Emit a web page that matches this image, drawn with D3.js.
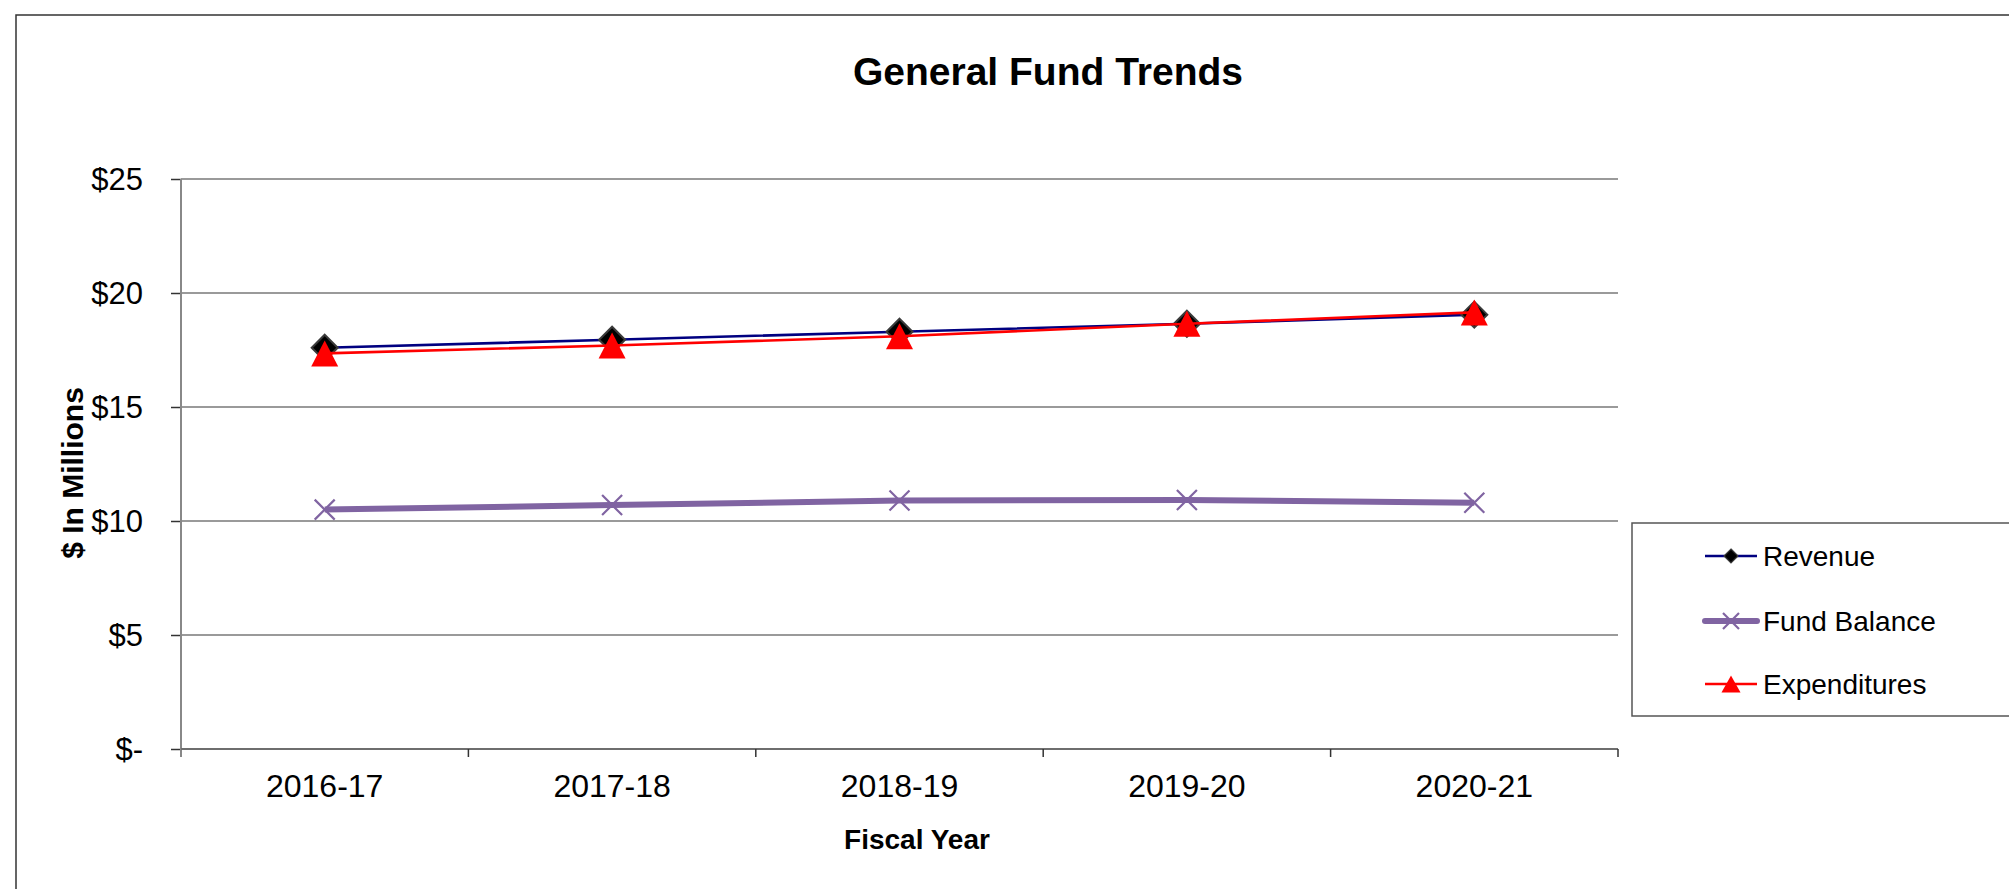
<!DOCTYPE html>
<html>
<head>
<meta charset="utf-8">
<title>General Fund Trends</title>
<script src="https://cdn.jsdelivr.net/npm/d3@7"></script>
<style>
  html, body { margin: 0; padding: 0; background: #ffffff; }
  svg { display: block; }
  text { font-family: "Liberation Sans", Arial, sans-serif; fill: #000; }
</style>
</head>
<body>
<svg id="chart" width="2009" height="889"></svg>
<script>
// Fiscal years on the category axis
const categories = ["2016-17", "2017-18", "2018-19", "2019-20", "2020-21"];

// General fund figures, $ millions
const revenue      = [17.6, 17.95, 18.3, 18.65, 19.05];
const fundBalance  = [10.5, 10.7, 10.9, 10.92, 10.8];
const expenditures = [17.35, 17.7, 18.1, 18.65, 19.15];

// Value axis ticks
const yTicks = [0, 5, 10, 15, 20, 25];
const yTickLabel = v => v === 0 ? "$-" : "$" + v;

const seriesNames = ["Revenue", "Fund Balance", "Expenditures"];

const svg = d3.select("#chart");

// Chart frame (runs past the right and bottom edges)
svg.append("rect")
  .attr("x", 16).attr("y", 15)
  .attr("width", 2200).attr("height", 1000)
  .attr("fill", "#fff")
  .attr("stroke", "#333").attr("stroke-width", 1.5);

const plot = { left: 181, right: 1618, top: 179, bottom: 749 };

const x = d3.scaleBand()
  .domain(categories)
  .range([plot.left, plot.right])
  .paddingInner(0).paddingOuter(0);

const y = d3.scaleLinear()
  .domain([0, 25])
  .range([plot.bottom, plot.top]);

const cx = c => x(c) + x.bandwidth() / 2;

// Horizontal gridlines
svg.append("g")
  .selectAll("line")
  .data(yTicks.filter(v => v > 0))
  .join("line")
  .attr("x1", plot.left).attr("x2", plot.right)
  .attr("y1", d => y(d)).attr("y2", d => y(d))
  .attr("stroke", "#9a9a9a").attr("stroke-width", 2);

// Value axis
const yAxis = svg.append("g")
  .attr("transform", `translate(${plot.left},0)`)
  .call(d3.axisLeft(y).tickValues(yTicks).tickFormat(yTickLabel)
    .tickSize(10).tickPadding(28));
yAxis.select(".domain").remove();
yAxis.selectAll(".tick line").attr("stroke", "#333").attr("stroke-width", 1.5);
yAxis.selectAll(".tick text")
  .style("font-size", "31px")
  .attr("dy", "0.34em");

// Left axis line, running down past the category axis
svg.append("line")
  .attr("x1", plot.left).attr("x2", plot.left)
  .attr("y1", plot.top).attr("y2", plot.bottom + 8)
  .attr("stroke", "#888").attr("stroke-width", 2);

// Category axis
const xAxis = svg.append("g")
  .attr("transform", `translate(0,${plot.bottom})`)
  .call(d3.axisBottom(x).tickSize(0).tickPadding(0));
xAxis.select(".domain").remove();
xAxis.selectAll(".tick text")
  .style("font-size", "32px")
  .attr("y", 48).attr("dy", 0);

svg.append("line")
  .attr("x1", plot.left).attr("x2", plot.right)
  .attr("y1", plot.bottom).attr("y2", plot.bottom)
  .attr("stroke", "#6e6e6e").attr("stroke-width", 2);

// Category boundary ticks
const boundaries = categories.map(c => x(c)).concat([x.range()[1]]);
svg.append("g")
  .selectAll("line")
  .data(boundaries.slice(1))
  .join("line")
  .attr("x1", d => d).attr("x2", d => d)
  .attr("y1", plot.bottom).attr("y2", plot.bottom + 8)
  .attr("stroke", "#333").attr("stroke-width", 1.5);

// Title and axis titles
svg.append("text")
  .attr("x", 1048).attr("y", 85)
  .attr("text-anchor", "middle")
  .style("font-size", "39px").style("font-weight", "bold")
  .text("General Fund Trends");

svg.append("text")
  .attr("x", 917).attr("y", 849)
  .attr("text-anchor", "middle")
  .style("font-size", "28px").style("font-weight", "bold")
  .text("Fiscal Year");

svg.append("text")
  .attr("transform", "translate(83,473) rotate(-90)")
  .attr("text-anchor", "middle")
  .style("font-size", "30px").style("font-weight", "bold")
  .text("$ In Millions");

// Marker shapes
const diamondPath = r => `M0,${-r}L${r},0L0,${r}L${-r},0Z`;
const trianglePath = (w, h) => `M0,${-h / 2}L${w / 2},${h / 2}L${-w / 2},${h / 2}Z`;
const crossPath = r => `M${-r},${-r}L${r},${r}M${-r},${r}L${r},${-r}`;

const line = d3.line()
  .x((d, i) => cx(categories[i]))
  .y(d => y(d));

const series = [
  { name: seriesNames[0], values: revenue, color: "#000080", width: 2.6, marker: "diamond" },
  { name: seriesNames[1], values: fundBalance, color: "#8064a2", width: 6, marker: "cross" },
  { name: seriesNames[2], values: expenditures, color: "#ff0000", width: 2.6, marker: "triangle" }
];

function drawMarker(g, marker, big) {
  if (marker === "diamond") {
    g.append("path").attr("d", diamondPath(big ? 13 : 7))
      .attr("fill", "#000").attr("stroke", "#3a3a3a").attr("stroke-width", big ? 2 : 1.2);
  } else if (marker === "triangle") {
    g.append("path").attr("d", big ? trianglePath(27, 26) : trianglePath(19, 17))
      .attr("fill", "#ff0000");
  } else {
    g.append("path").attr("d", crossPath(big ? 10 : 8))
      .attr("fill", "none").attr("stroke", "#8064a2").attr("stroke-width", 2.2);
  }
}

series.forEach(s => {
  const g = svg.append("g");
  g.append("path")
    .datum(s.values)
    .attr("d", line)
    .attr("fill", "none")
    .attr("stroke", s.color)
    .attr("stroke-width", s.width)
    .attr("stroke-linejoin", "round");
  s.values.forEach((v, i) => {
    const m = g.append("g").attr("transform", `translate(${cx(categories[i])},${y(v)})`);
    drawMarker(m, s.marker, true);
  });
});

// Legend
const legend = svg.append("g");
legend.append("rect")
  .attr("x", 1632).attr("y", 523)
  .attr("width", 500).attr("height", 193)
  .attr("fill", "#fff").attr("stroke", "#555").attr("stroke-width", 1.5);

const legendRows = [556, 621, 684];
series.forEach((s, i) => {
  const ly = legendRows[i];
  const row = legend.append("g");
  row.append("line")
    .attr("x1", 1705).attr("x2", 1757)
    .attr("y1", ly).attr("y2", ly)
    .attr("stroke", s.color).attr("stroke-width", s.width)
    .attr("stroke-linecap", s.marker === "cross" ? "round" : "butt");
  const m = row.append("g").attr("transform", `translate(1731,${ly})`);
  drawMarker(m, s.marker, false);
  row.append("text")
    .attr("x", 1763).attr("y", ly + 10)
    .style("font-size", "28px")
    .text(s.name);
});
</script>
</body>
</html>
